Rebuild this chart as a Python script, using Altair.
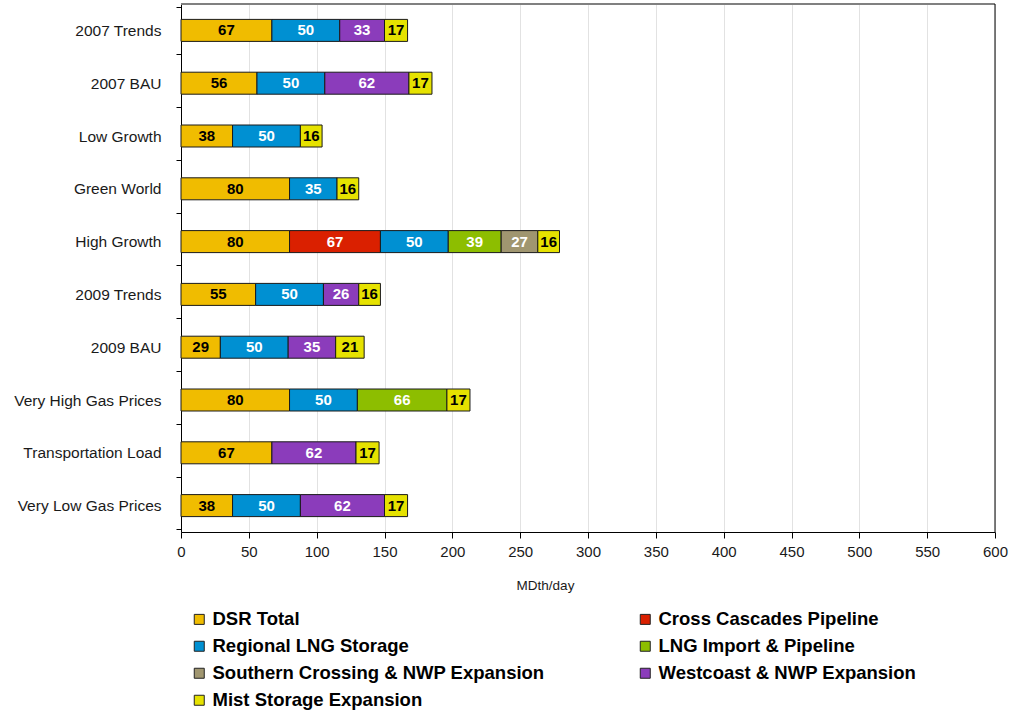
import altair as alt
import pandas as pd

# Scenarios, top to bottom
scenarios = [
    "2007 Trends", "2007 BAU", "Low Growth", "Green World", "High Growth",
    "2009 Trends", "2009 BAU", "Very High Gas Prices", "Transportation Load",
    "Very Low Gas Prices",
]

# Resource types in stacking order
resources = [
    "DSR Total", "Cross Cascades Pipeline", "Regional LNG Storage",
    "LNG Import & Pipeline", "Southern Crossing & NWP Expansion",
    "Westcoast & NWP Expansion", "Mist Storage Expansion",
]
colors = ["#F0BC00", "#DA2000", "#0090D2", "#8DBE00", "#A09670", "#8B3CBB", "#E6E200"]
label_colors = ["black", "white", "white", "white", "white", "white", "black"]

# MDth/day per resource, one list per resource (0 = not selected)
dsr_total       = [67, 56, 38, 80, 80, 55, 29, 80, 67, 38]
cross_cascades  = [0, 0, 0, 0, 67, 0, 0, 0, 0, 0]
regional_lng    = [50, 50, 50, 35, 50, 50, 50, 50, 0, 50]
lng_import      = [0, 0, 0, 0, 39, 0, 0, 66, 0, 0]
southern_cross  = [0, 0, 0, 0, 27, 0, 0, 0, 0, 0]
westcoast       = [33, 62, 0, 0, 0, 26, 35, 0, 62, 62]
mist_storage    = [17, 17, 16, 16, 16, 16, 21, 17, 17, 17]

series = [dsr_total, cross_cascades, regional_lng, lng_import,
          southern_cross, westcoast, mist_storage]

rows = []
for ri, (res, vals) in enumerate(zip(resources, series)):
    for sc, v in zip(scenarios, vals):
        if v > 0:
            rows.append({"scenario": sc, "resource": res, "idx": ri,
                         "value": v, "tc": label_colors[ri]})
df = pd.DataFrame(rows)

FONT = "Liberation Sans"
W, H = 814, 528

base = alt.Chart(df).transform_stack(
    stack="value", groupby=["scenario"], as_=["x0", "x1"],
    sort=[alt.SortField("idx", order="ascending")],
).transform_calculate(mid="(datum.x0 + datum.x1) / 2")

y_enc = alt.Y("scenario:N", sort=scenarios, title=None,
              axis=alt.Axis(labelFont=FONT, labelFontSize=15.5, labelColor="#1a1a1a",
                            labelPadding=15, tickBand="extent", tickSize=5,
                            tickColor="black", domainColor="black", grid=False))

bars = base.mark_bar(size=22, stroke="#1a1a1a", strokeWidth=1).encode(
    x=alt.X("x0:Q", scale=alt.Scale(domain=[0, 600], nice=False),
            title="MDth/day",
            axis=alt.Axis(values=list(range(0, 601, 50)), labelFont=FONT,
                          labelFontSize=15, labelColor="#1a1a1a", labelPadding=6,
                          labelFlush=False, labelOverlap=False,
                          tickSize=6, tickColor="black", domainColor="black",
                          gridColor="#e2e2e2", gridWidth=1,
                          titleFont=FONT, titleFontSize=13.5, titleFontWeight="normal",
                          titleColor="#1a1a1a", titleX=364, titleY=46)),
    x2="x1:Q",
    y=y_enc,
    color=alt.Color("resource:N", sort=resources,
                    scale=alt.Scale(domain=resources, range=colors),
                    legend=alt.Legend(title=None, orient="none", legendX=9, legendY=606,
                                      direction="horizontal",
                                      columns=2, columnPadding=91, rowPadding=8,
                                      symbolType="square", symbolSize=100,
                                      symbolStrokeColor="#222", symbolStrokeWidth=1,
                                      labelFont=FONT, labelFontSize=18.5,
                                      labelFontWeight="bold", labelColor="black",
                                      labelOffset=4, labelLimit=400)),
    order=alt.Order("idx:Q"),
)

labels = base.mark_text(font=FONT, fontSize=15, fontWeight="bold", baseline="middle").encode(
    x=alt.X("mid:Q"),
    y=alt.Y("scenario:N", sort=scenarios),
    text=alt.Text("value:Q"),
    color=alt.Color("tc:N", scale=None),
)

frame_top = alt.Chart(pd.DataFrame({"v": [0]})).mark_rule(color="#808080", strokeWidth=2).encode(
    x=alt.value(0), x2=alt.value(W), y=alt.value(0))
frame_right = alt.Chart(pd.DataFrame({"v": [0]})).mark_rule(color="black", strokeWidth=1).encode(
    x=alt.value(W), y=alt.value(0), y2=alt.value(H))

chart = alt.layer(bars, labels, frame_top, frame_right).resolve_scale(
    color="independent"
).properties(
    width=W, height=H, autosize="none",
    padding={"left": 181, "top": 4, "right": 15, "bottom": 180},
).configure_view(stroke=None).configure(background="white")

chart.save("out.html", embed_options={"renderer": "svg", "actions": False})
